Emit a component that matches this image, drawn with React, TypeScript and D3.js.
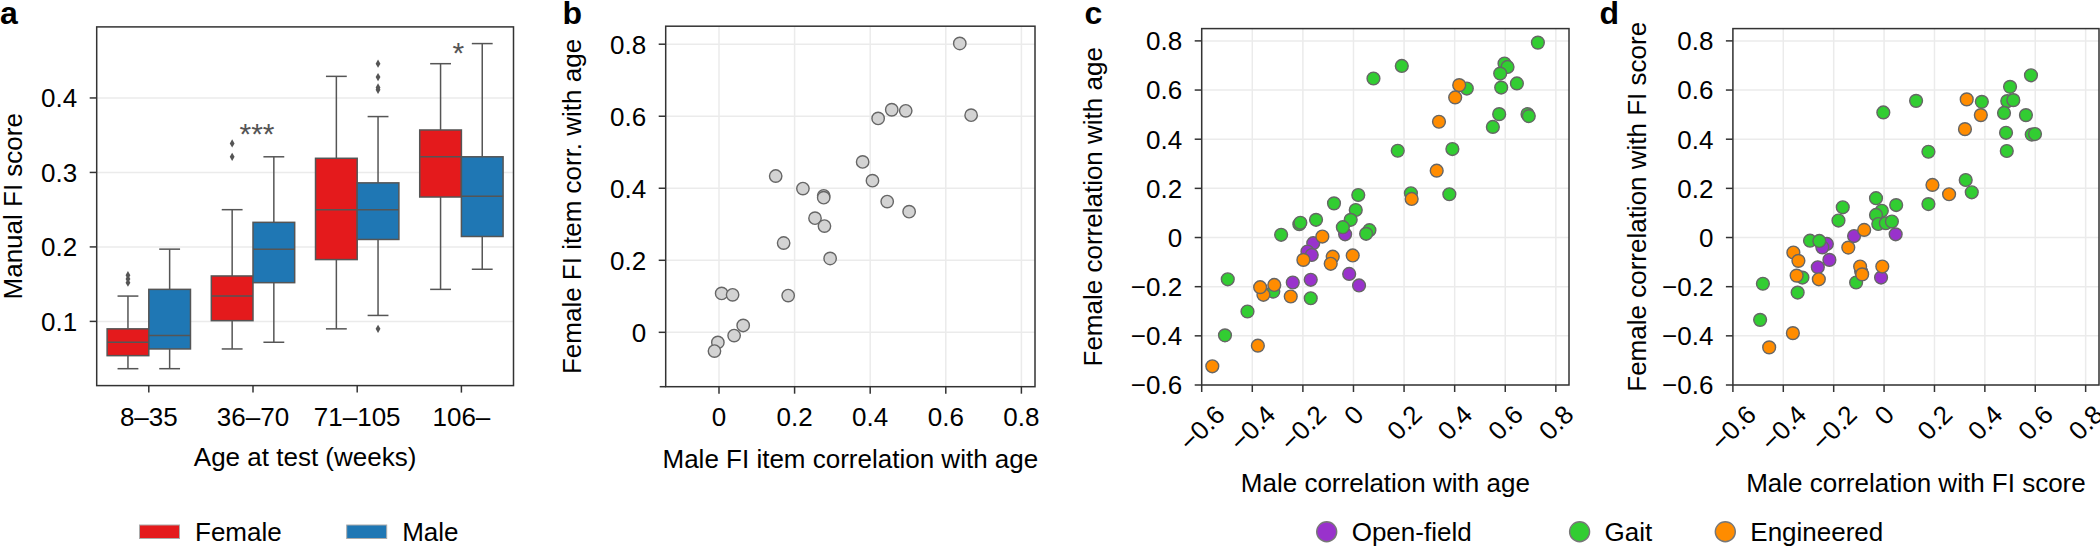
import React from 'react';
import * as d3 from 'd3';

const FONT = '"Liberation Sans", Arial, Helvetica, sans-serif';
const FS = 26;

// ---------- Panel a: box plots ----------
const ageGroups = ['8–35', '36–70', '71–105', '106–'];
const femaleWhiskerLow = [0.0365, 0.063, 0.09, 0.143];
const femaleQ1 = [0.054, 0.101, 0.183, 0.267];
const femaleMedian = [0.072, 0.134, 0.25, 0.321];
const femaleQ3 = [0.09, 0.161, 0.319, 0.357];
const femaleWhiskerHigh = [0.134, 0.25, 0.429, 0.446];
const femaleOutliers = [[0.152, 0.157, 0.162], [0.321, 0.339], [], []];
const maleWhiskerLow = [0.0365, 0.072, 0.108, 0.17];
const maleQ1 = [0.063, 0.152, 0.21, 0.214];
const maleMedian = [0.081, 0.197, 0.25, 0.268];
const maleQ3 = [0.143, 0.233, 0.286, 0.321];
const maleWhiskerHigh = [0.197, 0.321, 0.375, 0.473];
const maleOutliers = [[], [], [0.09, 0.411, 0.414, 0.428, 0.446], []];
const aYTicks = [0.1, 0.2, 0.3, 0.4];
const sigGroups = ['36–70', '106–'];
const sigLabels = ['***', '*'];
const sigValues = [0.3605, 0.47];

// ---------- Panel b ----------
const bMale = [0.637, 0.667, 0.421, 0.457, 0.494, 0.38, 0.406, 0.445, 0.503, 0.15, 0.222, 0.277, 0.277, 0.254, 0.279, 0.171, 0.294, 0.183, 0.007, 0.036, 0.064, 0.04, -0.003, -0.012];
const bFemale = [0.802, 0.603, 0.594, 0.618, 0.615, 0.473, 0.421, 0.363, 0.335, 0.434, 0.399, 0.379, 0.374, 0.317, 0.295, 0.248, 0.205, 0.102, 0.108, 0.104, 0.019, -0.009, -0.028, -0.052];
const bTicks = [0, 0.2, 0.4, 0.6, 0.8];

// ---------- Panel c: correlation with age ----------
const cOpenField: [number, number][] = [
  [-0.033, 0.013], [-0.159, -0.023], [-0.182, -0.057], [-0.165, -0.071],
  [-0.017, -0.148], [0.022, -0.195], [-0.24, -0.183], [-0.169, -0.172],
];
const cGait: [number, number][] = [
  [0.019, 0.173], [-0.077, 0.139], [0.009, 0.112], [-0.011, 0.072], [-0.042, 0.042],
  [0.063, 0.03], [0.05, 0.015], [-0.148, 0.072], [-0.214, 0.054], [-0.21, 0.06],
  [-0.286, 0.011], [-0.169, -0.247], [-0.317, -0.22], [-0.497, -0.17], [-0.419, -0.301],
  [-0.508, -0.398],
  [0.729, 0.793], [0.191, 0.698], [0.079, 0.647], [0.597, 0.708], [0.609, 0.694],
  [0.58, 0.667], [0.584, 0.61], [0.646, 0.627], [0.448, 0.606], [0.576, 0.502],
  [0.551, 0.45], [0.688, 0.502], [0.693, 0.494], [0.175, 0.353], [0.391, 0.36],
  [0.227, 0.18], [0.379, 0.176],
];
const cEngineered: [number, number][] = [
  [-0.123, 0.004], [-0.198, -0.091], [-0.082, -0.078], [-0.09, -0.107], [-0.003, -0.073],
  [-0.248, -0.24], [-0.313, -0.193], [-0.356, -0.233], [-0.369, -0.202], [-0.378, -0.44],
  [-0.558, -0.524],
  [0.418, 0.62], [0.402, 0.57], [0.338, 0.471], [0.329, 0.272], [0.23, 0.157],
];

// ---------- Panel d: correlation with FI score ----------
const dOpenField: [number, number][] = [
  [0.046, 0.013], [-0.119, 0.006], [-0.227, -0.026], [-0.245, -0.04],
  [-0.217, -0.091], [-0.263, -0.121], [-0.091, -0.138], [-0.012, -0.163],
];
const dGait: [number, number][] = [
  [-0.032, 0.16], [-0.009, 0.109], [0.048, 0.132], [-0.032, 0.092], [-0.023, 0.055],
  [0.007, 0.058], [0.031, 0.065], [-0.164, 0.123], [-0.181, 0.069], [-0.294, -0.013],
  [-0.257, -0.014], [-0.324, -0.163], [-0.343, -0.224], [-0.481, -0.188], [-0.492, -0.335],
  [-0.111, -0.183],
  [0.583, 0.66], [0.5, 0.613], [0.489, 0.555], [0.513, 0.559], [0.476, 0.507],
  [0.563, 0.498], [0.484, 0.426], [0.586, 0.419], [0.599, 0.421], [0.487, 0.352],
  [0.388, 0.552], [0.127, 0.556], [-0.003, 0.509], [0.176, 0.349], [0.324, 0.234],
  [0.348, 0.184], [0.176, 0.136],
];
const dEngineered: [number, number][] = [
  [-0.079, 0.031], [-0.142, -0.041], [-0.259, -0.17], [-0.36, -0.061], [-0.34, -0.095],
  [-0.347, -0.155], [-0.362, -0.389], [-0.456, -0.447], [-0.095, -0.118], [-0.087, -0.15],
  [-0.007, -0.118],
  [0.328, 0.562], [0.384, 0.498], [0.321, 0.441], [0.192, 0.214], [0.258, 0.176],
];
const cdTicks = [-0.6, -0.4, -0.2, 0, 0.2, 0.4, 0.6, 0.8];

const sexLabels = ['Female', 'Male'];
const sexColors = ['#e41a1c', '#1f77b4'];
const featureLabels = ['Open-field', 'Gait', 'Engineered'];
const featureColors = ['#9932cc', '#32cd32', '#ff8c00'];

const GRID = '#ebebeb';
const AXIS = '#333';
const BOXLINE = '#555';

function fmt(v: number) {
  if (Math.abs(v) < 1e-9) return '0';
  return (v < 0 ? '\u2212' : '') + Math.abs(v).toFixed(1);
}
function textW(s: string) {
  let w = 0;
  for (const ch of s) w += ch === '.' ? 0.278 : ch === '\u2212' ? 0.584 : 0.556;
  return w * FS;
}

function PanelA() {
  const F = { left: 96.7, right: 513.5, top: 26.9, bottom: 385.6 };
  const x = d3.scaleBand<string>().domain(ageGroups).range([F.left, F.right]).padding(0);
  const y = d3.scaleLinear().domain([0.0138, 0.4954]).range([F.bottom, F.top]);
  const bw = x.bandwidth() * 0.4;
  const diamond = d3.symbol().type(d3.symbolDiamond).size(20)();
  const boxes: any[] = [];
  ageGroups.forEach((g, i) => {
    const c = (x(g) as number) + x.bandwidth() / 2;
    const sets = [
      { cx: c - bw / 2, wl: femaleWhiskerLow[i], q1: femaleQ1[i], md: femaleMedian[i], q3: femaleQ3[i], wh: femaleWhiskerHigh[i], out: femaleOutliers[i], col: sexColors[0] },
      { cx: c + bw / 2, wl: maleWhiskerLow[i], q1: maleQ1[i], md: maleMedian[i], q3: maleQ3[i], wh: maleWhiskerHigh[i], out: maleOutliers[i], col: sexColors[1] },
    ];
    sets.forEach((s, j) => {
      boxes.push(
        <g key={g + j}>
          <line x1={s.cx} x2={s.cx} y1={y(s.wl)} y2={y(s.q1)} stroke={BOXLINE} strokeWidth={1.5} />
          <line x1={s.cx} x2={s.cx} y1={y(s.q3)} y2={y(s.wh)} stroke={BOXLINE} strokeWidth={1.5} />
          <line x1={s.cx - bw / 4} x2={s.cx + bw / 4} y1={y(s.wl)} y2={y(s.wl)} stroke={BOXLINE} strokeWidth={1.5} />
          <line x1={s.cx - bw / 4} x2={s.cx + bw / 4} y1={y(s.wh)} y2={y(s.wh)} stroke={BOXLINE} strokeWidth={1.5} />
          <rect x={s.cx - bw / 2} width={bw} y={y(s.q3)} height={y(s.q1) - y(s.q3)} fill={s.col} stroke={BOXLINE} strokeWidth={1.5} />
          <line x1={s.cx - bw / 2} x2={s.cx + bw / 2} y1={y(s.md)} y2={y(s.md)} stroke={BOXLINE} strokeWidth={1.5} />
          {s.out.map((o: number, k: number) => (
            <path key={k} d={diamond as string} transform={`translate(${s.cx},${y(o)})`} fill={BOXLINE} />
          ))}
        </g>
      );
    });
  });
  return (
    <g>
      {aYTicks.map((t) => (
        <line key={t} x1={F.left} x2={F.right} y1={y(t)} y2={y(t)} stroke={GRID} strokeWidth={1.5} />
      ))}
      {boxes}
      <rect x={F.left} y={F.top} width={F.right - F.left} height={F.bottom - F.top} fill="none" stroke={AXIS} strokeWidth={1.5} />
      {aYTicks.map((t) => (
        <g key={'yt' + t}>
          <line x1={F.left - 7} x2={F.left} y1={y(t)} y2={y(t)} stroke={AXIS} strokeWidth={1.5} />
          <text x={F.left - 19.5} y={y(t) + 9.3} textAnchor="end" fontSize={FS}>{t.toFixed(1)}</text>
        </g>
      ))}
      {ageGroups.map((g) => {
        const c = (x(g) as number) + x.bandwidth() / 2;
        return (
          <g key={'xt' + g}>
            <line x1={c} x2={c} y1={F.bottom} y2={F.bottom + 7} stroke={AXIS} strokeWidth={1.5} />
            <text x={c} y={F.bottom + 40} textAnchor="middle" fontSize={FS}>{g}</text>
          </g>
        );
      })}
      {sigGroups.map((g, i) => (
        <text key={'s' + i} x={(x(g) as number) + x.bandwidth() / 2 + (i === 0 ? 4 : -3)} y={y(sigValues[i]) + 17} textAnchor="middle" fontSize={30} fill="#555">{sigLabels[i]}</text>
      ))}
      <text x={(F.left + F.right) / 2} y={466} textAnchor="middle" fontSize={FS}>Age at test (weeks)</text>
      <text transform={`translate(21.5,${(F.top + F.bottom) / 2}) rotate(-90)`} textAnchor="middle" fontSize={FS}>Manual FI score</text>
      <text x={0} y={24} fontSize={32} fontWeight="bold">a</text>
    </g>
  );
}

type Series = { pts: [number, number][]; color: string };

function ScatterPanel(props: {
  F: { left: number; right: number; top: number; bottom: number };
  xDomain: [number, number]; yDomain: [number, number];
  xTicks: number[]; yTicks: number[]; rotate: boolean;
  series: Series[]; r: number;
  xTitle: string; yTitle: string; xTitleY: number; yTitleX: number;
  letter: string; letterX: number; extraCornerTick?: boolean;
}) {
  const { F } = props;
  const x = d3.scaleLinear().domain(props.xDomain).range([F.left, F.right]);
  const y = d3.scaleLinear().domain(props.yDomain).range([F.bottom, F.top]);
  return (
    <g>
      {props.xTicks.map((t) => (
        <line key={'gx' + t} x1={x(t)} x2={x(t)} y1={F.top} y2={F.bottom} stroke={GRID} strokeWidth={1.5} />
      ))}
      {props.yTicks.map((t) => (
        <line key={'gy' + t} x1={F.left} x2={F.right} y1={y(t)} y2={y(t)} stroke={GRID} strokeWidth={1.5} />
      ))}
      {props.series.map((s, si) => (
        <g key={'s' + si}>
          {s.pts.map((p, i) => (
            <circle key={i} cx={x(p[0])} cy={y(p[1])} r={props.r} fill={s.color} stroke="#666" strokeWidth={1.4} />
          ))}
        </g>
      ))}
      <rect x={F.left} y={F.top} width={F.right - F.left} height={F.bottom - F.top} fill="none" stroke={AXIS} strokeWidth={1.5} />
      {props.extraCornerTick && (
        <line x1={F.left - 6} x2={F.left} y1={F.bottom} y2={F.bottom} stroke={AXIS} strokeWidth={1.5} />
      )}
      {props.yTicks.map((t) => (
        <g key={'yt' + t}>
          <line x1={F.left - 7} x2={F.left} y1={y(t)} y2={y(t)} stroke={AXIS} strokeWidth={1.5} />
          <text x={F.left - 19.5} y={y(t) + 9.3} textAnchor="end" fontSize={FS}>{fmt(t)}</text>
        </g>
      ))}
      {props.xTicks.map((t) => {
        const lab = fmt(t);
        if (props.rotate) {
          const ext = (textW(lab) + 18.6) / Math.SQRT2;
          const cy = F.bottom + 18 + ext / 2;
          return (
            <g key={'xt' + t}>
              <line x1={x(t)} x2={x(t)} y1={F.bottom} y2={F.bottom + 7} stroke={AXIS} strokeWidth={1.5} />
              <text transform={`translate(${x(t)},${cy}) rotate(-45)`} dy="0.36em" textAnchor="middle" fontSize={FS}>{lab}</text>
            </g>
          );
        }
        return (
          <g key={'xt' + t}>
            <line x1={x(t)} x2={x(t)} y1={F.bottom} y2={F.bottom + 7} stroke={AXIS} strokeWidth={1.5} />
            <text x={x(t)} y={F.bottom + 39} textAnchor="middle" fontSize={FS}>{lab}</text>
          </g>
        );
      })}
      <text x={(F.left + F.right) / 2} y={props.xTitleY} textAnchor="middle" fontSize={FS}>{props.xTitle}</text>
      <text transform={`translate(${props.yTitleX},${(F.top + F.bottom) / 2}) rotate(-90)`} textAnchor="middle" fontSize={FS}>{props.yTitle}</text>
      <text x={props.letterX} y={24} fontSize={32} fontWeight="bold">{props.letter}</text>
    </g>
  );
}

function Legends() {
  const sexX = [139.5, 346.7];
  const featX = [1326.7, 1579.6, 1725.3];
  return (
    <g>
      {sexLabels.map((l, i) => (
        <g key={l}>
          <rect x={sexX[i]} y={525} width={40} height={13.5} fill={sexColors[i]} stroke="#aaa" strokeWidth={1} />
          <text x={sexX[i] + 55.5} y={540.5} fontSize={FS}>{l}</text>
        </g>
      ))}
      {featureLabels.map((l, i) => (
        <g key={l}>
          <circle cx={featX[i]} cy={531.7} r={10} fill={featureColors[i]} stroke="#777" strokeWidth={1.4} />
          <text x={featX[i] + 25} y={540.5} fontSize={FS}>{l}</text>
        </g>
      ))}
    </g>
  );
}

export default function App() {
  const bPts: [number, number][] = bMale.map((m, i) => [m, bFemale[i]]);
  return (
    <svg width={2100} height={547} style={{ position: 'absolute', left: 0, top: 0, display: 'block' }} fontFamily={FONT}>
      <rect width={2100} height={547} fill="#fff" />
      <PanelA />
      <ScatterPanel
        F={{ left: 665.7, right: 1035, top: 26.2, bottom: 386.7 }}
        xDomain={[-0.141, 0.836]} yDomain={[-0.151, 0.85]}
        xTicks={bTicks} yTicks={bTicks} rotate={false}
        series={[{ pts: bPts, color: '#d3d3d3' }]} r={6.2}
        xTitle="Male FI item correlation with age" yTitle="Female FI item corr. with age"
        xTitleY={468} yTitleX={581} letter="b" letterX={562.5} extraCornerTick
      />
      <ScatterPanel
        F={{ left: 1201.7, right: 1569, top: 28.6, bottom: 385 }}
        xDomain={[-0.6, 0.852]} yDomain={[-0.6, 0.85]}
        xTicks={cdTicks} yTicks={cdTicks} rotate
        series={[{ pts: cOpenField, color: featureColors[0] }, { pts: cGait, color: featureColors[1] }, { pts: cEngineered, color: featureColors[2] }]} r={6.4}
        xTitle="Male correlation with age" yTitle="Female correlation with age"
        xTitleY={492} yTitleX={1102} letter="c" letterX={1084.4}
      />
      <ScatterPanel
        F={{ left: 1732.9, right: 2099, top: 28.6, bottom: 385 }}
        xDomain={[-0.6, 0.853]} yDomain={[-0.6, 0.85]}
        xTicks={cdTicks} yTicks={cdTicks} rotate
        series={[{ pts: dOpenField, color: featureColors[0] }, { pts: dGait, color: featureColors[1] }, { pts: dEngineered, color: featureColors[2] }]} r={6.4}
        xTitle="Male correlation with FI score" yTitle="Female correlation with FI score"
        xTitleY={492} yTitleX={1646} letter="d" letterX={1599.6}
      />
      <Legends />
    </svg>
  );
}
